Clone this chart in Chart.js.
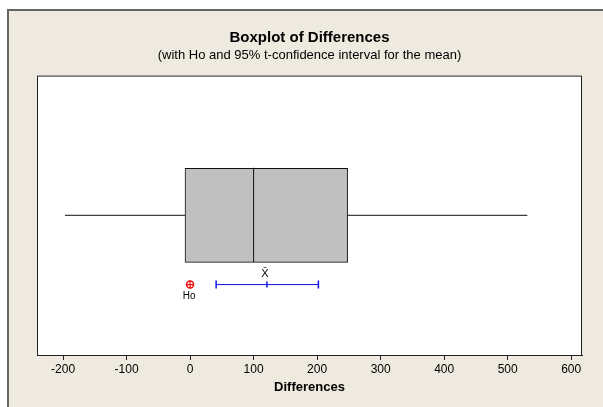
<!DOCTYPE html>
<html>
<head>
<meta charset="utf-8">
<script src="https://cdn.jsdelivr.net/npm/chart.js@4.4.1/dist/chart.umd.min.js"></script>
<style>
  body { margin: 0; background: #fff; }
  #frame {
    position: absolute; left: 7px; top: 9px; width: 596px; height: 398px;
    background: #EEEAE0; border-top: 2px solid #666; border-left: 2px solid #666;
  }
  #wrap { position: absolute; left: 0; top: 0; width: 603px; height: 407px; }
</style>
</head>
<body>
<div id="frame"></div>
<div id="wrap"><canvas id="chart" width="603" height="407"></canvas></div>
<script>
// boxplot summary of Differences
const boxStats = { min: -197, q1: -8, median: 100, q3: 248, max: 531 };
// 95% t-confidence interval for the mean, and Ho
const ciValues = [41, 121, 202];
const hoValue = [0];
const tickValues = [-200, -100, 0, 100, 200, 300, 400, 500, 600];

// rows on the hidden vertical scale (0..100)
const boxRow = 50;
const boxLow = 33.3;
const boxHigh = 67;
const ciRow = 25.2;

const plotFrame = {
  id: "plotFrame",
  beforeDraw(chart) {
    const { ctx, chartArea: a } = chart;
    ctx.save();
    ctx.fillStyle = "#ffffff";
    ctx.fillRect(a.left, a.top, a.right - a.left, a.bottom - a.top);
    ctx.restore();
  },
  afterDraw(chart) {
    const { ctx, chartArea: a } = chart;
    ctx.save();
    ctx.strokeStyle = "#222";
    ctx.lineWidth = 1;
    ctx.strokeRect(a.left + 0.5, a.top + 0.5, a.right - a.left - 1, a.bottom - a.top);
    ctx.restore();
  },
};

const markLabels = {
  id: "markLabels",
  afterDatasetsDraw(chart) {
    const { ctx, scales } = chart;
    const yRow = scales.y.getPixelForValue(ciRow);
    ctx.save();
    ctx.fillStyle = "#000";
    ctx.textAlign = "center";
    ctx.font = "10px 'Liberation Sans', Arial, sans-serif";
    ctx.textBaseline = "middle";
    ctx.fillText("Ho", scales.x.getPixelForValue(hoValue[0]) - 1, yRow + 12);
    ctx.font = "11px 'Liberation Sans', Arial, sans-serif";
    ctx.fillText("X\u0304", scales.x.getPixelForValue(ciValues[1]) - 2, yRow - 11);
    ctx.restore();
  },
};

new Chart(document.getElementById("chart"), {
  type: "bar",
  data: {
    datasets: [
      {
        type: "bar",
        indexAxis: "y",
        data: [{ x: [boxStats.q1, boxStats.q3], y: boxRow }],
        backgroundColor: "#C0C0C0",
        borderColor: "#111",
        borderWidth: 1,
        borderSkipped: false,
        barThickness: 94,
        order: 2,
      },
      {
        type: "line",
        data: [{ x: boxStats.median, y: boxLow }, { x: boxStats.median, y: boxHigh }],
        borderColor: "#111",
        borderWidth: 1,
        pointRadius: 0,
        order: 1,
      },
      {
        type: "line",
        data: [{ x: boxStats.min, y: boxRow }, { x: boxStats.q1, y: boxRow }],
        borderColor: "#111",
        borderWidth: 1,
        pointRadius: 0,
        order: 1,
      },
      {
        type: "line",
        data: [{ x: boxStats.q3, y: boxRow }, { x: boxStats.max, y: boxRow }],
        borderColor: "#111",
        borderWidth: 1,
        pointRadius: 0,
        order: 1,
      },
      {
        type: "line",
        data: ciValues.map((v) => ({ x: v, y: ciRow })),
        borderColor: "#1010e8",
        borderWidth: 1,
        pointStyle: "line",
        rotation: 90,
        pointRadius: [4, 3, 4],
        pointBorderColor: "#1010e8",
        pointBorderWidth: 1.5,
        order: 0,
      },
      {
        type: "line",
        data: hoValue.map((v) => ({ x: v, y: ciRow })),
        showLine: false,
        pointStyle: "circle",
        pointRadius: 3.5,
        pointBackgroundColor: "rgba(0,0,0,0)",
        pointBorderColor: "#f01010",
        pointBorderWidth: 1.5,
        order: 0,
      },
      {
        type: "line",
        data: hoValue.map((v) => ({ x: v, y: ciRow })),
        showLine: false,
        pointStyle: "cross",
        pointRadius: 4,
        pointBorderColor: "#f01010",
        pointBorderWidth: 1.2,
        order: 0,
      },
    ],
  },
  options: {
    responsive: false,
    animation: false,
    layout: { padding: { left: 37, right: 21, top: 0, bottom: 12 } },
    plugins: {
      legend: { display: false },
      tooltip: { enabled: false },
      title: {
        display: true,
        text: "Boxplot of Differences",
        color: "#000",
        font: { family: "'Liberation Sans', Arial, sans-serif", size: 15, weight: "bold", lineHeight: 1.2 },
        padding: { top: 29, bottom: 0 },
      },
      subtitle: {
        display: true,
        text: "(with Ho and 95% t-confidence interval for the mean)",
        color: "#000",
        font: { family: "'Liberation Sans', Arial, sans-serif", size: 13, lineHeight: 1.2 },
        padding: { top: 1, bottom: 12 },
      },
    },
    scales: {
      x: {
        type: "linear",
        min: -241,
        max: 617,
        offset: false,
        afterBuildTicks: (scale) => {
          scale.ticks = tickValues.map((v) => ({ value: v }));
        },
        grid: { offset: false, drawOnChartArea: false, drawTicks: true, tickLength: 5, color: "#222" },
        border: { display: true, color: "#222" },
        ticks: {
          color: "#000",
          padding: 2,
          font: { family: "'Liberation Sans', Arial, sans-serif", size: 12 },
        },
        title: {
          display: true,
          text: "Differences",
          color: "#000",
          font: { family: "'Liberation Sans', Arial, sans-serif", size: 13, weight: "bold" },
          padding: { top: 1, bottom: 0 },
        },
      },
      y: { type: "linear", min: 0, max: 100, offset: false, display: false },
    },
  },
  plugins: [plotFrame, markLabels],
});
</script>
</body>
</html>
